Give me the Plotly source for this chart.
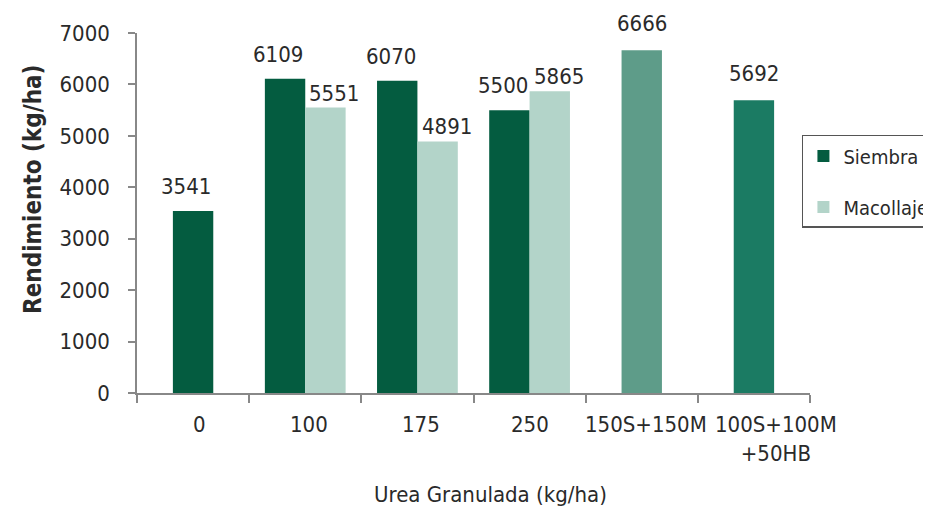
import plotly.graph_objects as go

categories = ["0", "100", "175", "250", "150S+150M", "100S+100M<br>+50HB"]
siembra = [3541, 6109, 6070, 5500, None, None]
macollaje = [None, 5551, 4891, 5865, None, None]
combinado = [None, None, None, None, 6666, 5692]
combinado_colors = ["white", "white", "white", "white", "#5e9c89", "#1b7b63"]
y_ticks = [0, 1000, 2000, 3000, 4000, 5000, 6000, 7000]
label_shift = [0.06, 0.035, 0.03, 0.0, 0.04, 0.2]   # horizontal nudge of category labels

FONT = "DejaVu Sans Condensed, DejaVu Sans, sans-serif"
TXT = "#2a2a2a"
W = 0.36

# offsets: paired categories side by side, single bars centred
s_off = [(-W if m is not None else -W / 2) for m in macollaje]
m_off = [0.0 for _ in macollaje]
c_off = [-W / 2 for _ in combinado]

fig = go.Figure()
fig.add_trace(go.Bar(
    name="Siembra", x=categories, y=siembra, width=W, offset=s_off,
    marker=dict(color="#045c40"), legendgroup="a",
))
fig.add_trace(go.Bar(
    name="Macollaje", x=categories, y=macollaje, width=W, offset=m_off,
    marker=dict(color="#b3d4c9"), legendgroup="b",
))
fig.add_trace(go.Bar(
    name="Combinado", x=categories, y=combinado, width=W, offset=c_off,
    marker=dict(color=combinado_colors), showlegend=False,
))
fig.update_traces(marker_line_width=0)

annotations = []
# value labels above the bars
for values, offs, dx, dy in [(siembra, s_off, -0.06, 10),
                             (macollaje, m_off, 0.08, 0),
                             (combinado, c_off, 0.0, 12)]:
    for i, v in enumerate(values):
        if v is None:
            continue
        annotations.append(dict(
            x=i + offs[i] + W / 2 + dx, y=v, xref="x", yref="y",
            text=str(v), showarrow=False, yanchor="bottom", yshift=dy,
            font=dict(family=FONT, size=22, color=TXT),
        ))
# category labels under the axis
for i, (cat, sh) in enumerate(zip(categories, label_shift)):
    annotations.append(dict(
        x=i + sh, y=0, xref="x", yref="y", text=cat, showarrow=False,
        xanchor="center", yanchor="top", yshift=-17, align="center",
        font=dict(family=FONT, size=22, color=TXT),
    ))
# axis titles
annotations.append(dict(
    x=-0.1545, y=0.564, xref="paper", yref="paper", textangle=-90,
    xanchor="center", yanchor="middle",
    text="<b>Rendimiento (kg/ha)</b>", showarrow=False,
    font=dict(family=FONT, size=24, color=TXT),
))
annotations.append(dict(
    x=0.526, y=-0.2833, xref="paper", yref="paper",
    xanchor="center", yanchor="middle",
    text="Urea Granulada (kg/ha)", showarrow=False,
    font=dict(family=FONT, size=22, color=TXT),
))

fig.update_layout(
    width=931, height=508,
    margin=dict(l=129, r=129, t=25, b=123, autoexpand=False),
    paper_bgcolor="white", plot_bgcolor="white",
    barmode="overlay",
    font=dict(family=FONT, size=22, color=TXT),
    showlegend=True,
    legend=dict(x=0.988, y=0.7167, xanchor="left", yanchor="top",
                bordercolor="#555", borderwidth=1.5,
                font=dict(family=FONT, size=20, color=TXT),
                tracegroupgap=22, traceorder="grouped",
                itemwidth=30),
    annotations=annotations,
)
fig.update_yaxes(
    range=[0, 7000], tickvals=y_ticks, showgrid=False, zeroline=False,
    showline=True, linecolor="#888", linewidth=1.5,
    ticks="outside", ticklen=7, tickcolor="#888", tickwidth=1.5,
    ticklabelstandoff=14, automargin=False,
    tickfont=dict(family=FONT, size=22, color=TXT),
)
fig.update_xaxes(
    range=[-0.5, len(categories) - 0.5],
    showgrid=False, showline=True, linecolor="#888", linewidth=1.5,
    ticks="outside", ticklen=8, tickcolor="#888", tickwidth=1.5,
    tickson="boundaries", showticklabels=False, automargin=False,
)

fig.write_html("out.html")
